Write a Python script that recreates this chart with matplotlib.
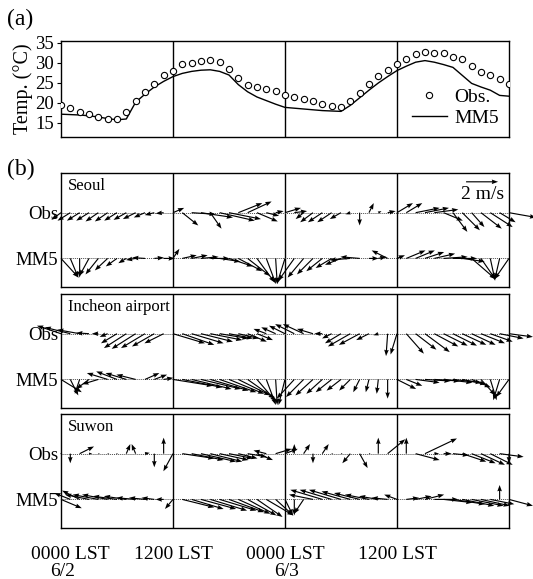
import numpy as np
import matplotlib
matplotlib.use('Agg')
import matplotlib.pyplot as plt
import matplotlib.transforms as mtransforms

plt.rcParams['font.family'] = ['Liberation Serif', 'DejaVu Serif']
plt.rcParams['font.size'] = 13.5

# Hours since 0000 LST 6/2
hours = np.arange(49)

# (a) Temperature (deg C)
temp_obs = [19.3, 18.6, 17.6, 17.1, 16.5, 16.0, 16.0, 17.7, 20.4, 22.6,
            24.6, 26.9, 28.0, 29.6, 30.0, 30.5, 30.6, 30.2, 28.4, 26.2,
            24.4, 23.9, 23.3, 22.8, 22.0, 21.4, 21.0, 20.4, 19.7, 19.2,
            19.0, 20.4, 22.5, 24.6, 26.6, 28.2, 29.7, 31.0, 32.2, 32.7,
            32.3, 32.3, 31.5, 30.9, 29.1, 27.6, 26.8, 25.8, 24.7]
temp_mm5 = [17.1, 17.0, 16.9, 16.7, 16.4, 16.0, 15.7, 15.9, 20.1, 22.1,
            23.9, 25.3, 26.5, 27.3, 27.8, 28.1, 28.2, 27.8, 26.9, 24.5,
            22.7, 21.4, 20.5, 19.6, 18.8, 18.6, 18.4, 18.2, 18.0, 17.9,
            17.8, 19.3, 21.2, 23.1, 24.9, 26.5, 28.0, 29.1, 30.1, 30.5,
            30.1, 29.5, 28.8, 26.8, 24.8, 23.9, 23.1, 21.8, 21.6]

stations = ['Seoul', 'Incheon airport', 'Suwon']

# (b) hourly wind vectors (m/s): u eastward, v northward
seoul_obs_u = [-0.6, -0.8, -0.8, -0.8, -0.8, -0.8, -0.8, -0.8, -0.8, -0.7,
               -0.6, -0.5, 0.7, 1.0, 1.5, 2.0, 0.7, 2.2, 2.0, 1.5,
               1.5, 1.3, 0.8, 0.5, 1.0, 0.8, -0.5, -0.8, -0.9, -0.9,
               -0.7, -0.3, 0.0, 0.3, 0.2, 0.5, 1.0, 1.0, 1.5, 1.5,
               1.5, 1.2, 0.9, 1.1, 0.8, 1.3, 1.4, 1.0, 1.7]
seoul_obs_v = [-0.45, -0.5, -0.5, -0.5, -0.55, -0.55, -0.5, -0.45, -0.4, -0.3,
               -0.15, -0.05, 0.3, -0.8, -0.1, -0.3, -1.0, -0.5, -0.4, 0.6,
               0.7, -0.55, -0.2, 0.1, 0.3, 0.1, -0.4, -0.6, -0.6, -0.6,
               -0.4, -0.1, -0.8, 0.6, 0.1, 0.1, 0.6, 0.6, 0.3, 0.3,
               0.2, -0.5, -1.2, -1.1, -0.9, -1.0, -0.9, -0.6, -0.3]
seoul_mm5_u = [1.1, 0.5, 0.0, -0.6, -0.8, -0.8, -0.7, -0.5, -0.6, -0.8,
               0.6, 0.7, 0.4, 0.9, 1.0, 1.1, 1.2, 1.3, 1.5, 1.5,
               1.4, 1.1, 0.6, 0.1, -0.5, -1.0, -1.0, -1.0, -1.0, -1.0,
               -1.0, -1.3, -1.2, 0.6, 0.5, -1.0, 0.5, 1.2, 1.2, 1.2,
               1.3, 1.5, 1.5, 1.4, 1.5, 0.9, 0.3, -0.3, -0.9]
seoul_mm5_v = [-1.2, -1.2, -1.2, -1.1, -1.0, -0.75, -0.5, -0.3, -0.1, 0.05,
               0.05, 0.0, 0.6, 0.2, 0.2, 0.1, 0.0, -0.2, -0.5, -0.8,
               -1.1, -1.5, -1.6, -1.6, -1.6, -1.4, -1.2, -1.0, -0.8, -0.6,
               -0.4, -0.1, 0.1, 0.0, 0.1, 0.5, 0.2, 0.5, 0.5, 0.4,
               0.3, 0.1, 0.0, -0.2, -1.3, -1.3, -1.4, -1.3, -1.3]

inch_obs_u = [-1.5, -1.6, -1.4, -0.8, -0.4, -0.5, -1.0, -1.4, -1.5, -1.5,
              -1.4, -1.2, 2.0, 2.0, 2.0, 2.0, 2.0, 1.8, 1.5, 1.3,
              1.2, 1.0, -0.8, -0.9, -1.0, -1.2, -1.3, -1.0, -0.5, -0.6,
              -1.0, -1.4, -1.3, -0.8, -0.3, -0.1, -0.4, 1.1, 1.3, 1.55,
              1.5, 1.5, 1.5, 1.5, 1.5, 1.5, 1.4, 1.5, 1.5]
inch_obs_v = [0.5, 0.4, 0.25, 0.05, 0.0, -0.2, -0.6, -0.9, -0.95, -0.9,
              -0.8, -0.6, -0.6, -0.7, -0.6, -0.5, -0.4, -0.3, -0.3, -0.3,
              -0.5, -0.4, 0.3, 0.4, 0.5, 0.6, 0.6, 0.3, 0.0, -0.3,
              -0.6, -0.8, -0.7, -0.4, -0.1, -1.4, -1.3, -1.25, -1.0, -1.15,
              -0.8, -0.75, -0.75, -0.7, -0.7, -0.6, -0.5, -0.3, -0.2]
inch_mm5_u = [1.3, 0.5, -0.3, -0.8, -1.0, -1.3, -1.3, -1.3, -1.2, 0.9,
              0.8, 0.6, 2.5, 2.5, 2.5, 2.5, 2.4, 2.3, 2.2, 2.0,
              1.7, 1.2, 0.6, 0.1, -0.4, -1.1, -1.1, -1.1, -1.0, -1.0,
              -0.9, -0.7, -0.4, -0.2, -0.1, 0.0, 1.2, 1.0, 1.5, 1.6,
              1.6, 1.8, 1.8, 1.5, 1.2, 0.9, 0.4, -0.4, -0.8]
inch_mm5_v = [-0.8, -1.0, -0.9, -0.6, -0.3, 0.4, 0.5, 0.4, 0.3, 0.4,
              0.3, 0.1, -0.4, -0.5, -0.6, -0.6, -0.7, -0.8, -0.9, -1.0,
              -1.2, -1.4, -1.6, -1.6, -1.6, -1.2, -1.1, -1.0, -0.9, -0.8,
              -0.7, -0.7, -0.8, -0.8, -0.9, -1.2, -0.6, -0.4, -0.2, -0.1,
              -0.1, -0.2, -0.2, -0.3, -0.5, -1.0, -1.3, -1.3, -1.1]

suwon_obs_u = [0.05, 0.0, 0.9, 0.2, 0.1, 0.1, 0.05, 0.25, -0.25, 0.3,
               0.0, 0.0, -0.6, 2.0, 2.0, 2.2, 2.0, 1.8, 1.5, 1.2,
               1.2, 1.0, -0.8, 1.0, 0.8, 0.0, 0.4, 0.0, 0.4, 0.1,
               0.1, -0.5, 0.5, 0.1, 0.0, 1.1, 0.1, 0.0, 1.5, 2.0,
               0.3, 0.5, 1.0, 1.5, 1.5, 1.5, 1.4, 1.5, 0.0]
suwon_obs_v = [0.0, -0.6, 0.45, 0.0, 0.0, 0.0, 0.0, 0.6, 0.6, 0.05,
               -0.85, 1.0, -1.1, -0.3, -0.4, -0.5, -0.5, -0.4, -0.3, -0.3,
               -0.2, -0.4, 0.2, 0.3, 0.3, 0.6, 0.6, -0.6, 0.6, 0.0,
               0.0, -0.6, -0.9, 0.0, 1.0, 0.9, 0.0, 1.0, -0.4, 0.95,
               0.0, 0.0, -0.1, -0.5, -0.6, -0.7, -0.7, -0.2, -0.6]
suwon_mm5_u = [1.3, -1.0, -1.1, -1.5, -1.6, -1.6, -1.5, -1.4, -1.2, -1.0,
               -0.8, -0.5, -0.5, 2.0, 2.0, 2.2, 2.3, 2.3, 2.2, 2.0,
               1.8, 1.6, 1.7, 1.1, 0.5, 0.0, -0.6, -1.5, -2.0, -2.0,
               -2.0, -1.8, -1.6, -1.5, -1.2, -1.0, -0.8, 0.8, 1.0, 1.2,
               1.5, 1.8, 2.0, 2.0, 2.0, 1.8, 1.5, 0.0, 1.5]
suwon_mm5_v = [-0.55, 0.4, 0.55, 0.3, 0.3, 0.3, 0.2, 0.2, 0.1, 0.1,
               0.1, 0.0, -0.6, -0.5, -0.6, -0.6, -0.7, -0.7, -0.8, -0.9,
               -1.0, -1.1, -1.0, -1.0, -1.0, -1.0, -0.9, 0.3, 0.6, 0.6,
               0.6, 0.5, 0.4, 0.3, 0.2, 0.1, 0.3, 0.1, 0.2, 0.3,
               0.0, -0.2, -0.3, -0.4, -0.4, -0.4, -0.3, 0.9, -0.4]

winds = [
    (seoul_obs_u, seoul_obs_v, seoul_mm5_u, seoul_mm5_v),
    (inch_obs_u, inch_obs_v, inch_mm5_u, inch_mm5_v),
    (suwon_obs_u, suwon_obs_v, suwon_mm5_u, suwon_mm5_v),
]

day_ticks = [0, 12, 24, 36]
day_labels = ['0000 LST', '1200 LST', '0000 LST', '1200 LST']
date_ticks = [0, 24]
date_labels = ['6/2', '6/3']

fig = plt.figure(figsize=(5.33, 5.79), dpi=100)

# ---- (a) temperature
ax = fig.add_axes([0.1144, 0.7634, 0.8405, 0.1658])
ax.plot(hours, temp_obs, 'o', mfc='white', mec='black', ms=4.5, mew=0.8,
        label='Obs.', zorder=3)
ax.plot(hours, temp_mm5, '-', color='black', lw=1.0, label='MM5')
ax.set_xlim(0, 48)
ax.set_ylim(11.4, 35.4)
ax.set_yticks([15, 20, 25, 30, 35])
ax.set_xticks(day_ticks[1:])
ax.set_xticklabels([])
ax.tick_params(axis='x', length=0)
ax.tick_params(axis='y', length=3, pad=2)
ax.grid(axis='x', color='black', lw=1.0)
for sp in ax.spines.values():
    sp.set_linewidth(1.0)
ax.set_ylabel('Temp. (°C)', fontsize=14.5, labelpad=2)
ax.legend(loc='lower right', frameon=False, fontsize=14, handlelength=1.8,
          handletextpad=0.4, borderaxespad=0.1, labelspacing=0.2)
fig.text(0.013, 0.985, '(a)', fontsize=17, va='top')

# ---- (b) wind vectors
fig.text(0.013, 0.725, '(b)', fontsize=17, va='top')
bottoms = [0.5043, 0.2953, 0.0881]
y_obs, y_mm5 = 0.65, 0.25
for i, name in enumerate(stations):
    ou, ov, mu, mv = winds[i]
    ax = fig.add_axes([0.1144, bottoms[i], 0.8405, 0.1975])
    ax.set_xlim(0, 48)
    ax.set_ylim(0, 1)
    for sp in ax.spines.values():
        sp.set_linewidth(1.0)
    for yb in (y_obs, y_mm5):
        ax.axhline(yb, color='0.3', lw=0.7, ls=(0, (1, 1)))
    q = None
    for yb, u, v in ((y_obs, ou, ov), (y_mm5, mu, mv)):
        q = ax.quiver(hours, np.full(len(hours), yb), u, v, angles='uv',
                      scale_units='dots', scale=1 / 16.0, units='dots',
                      width=1.15, headwidth=4, headlength=5.5,
                      headaxislength=5, color='black', zorder=3)
        q.set_clip_on(False)
    if i == 0:
        ax.quiverkey(q, 0.94, 0.92, 2, '2 m/s', labelpos='S',
                     coordinates='axes', labelsep=0.04,
                     fontproperties={'size': 14})
    ax.text(0.015, 0.955, name, transform=ax.transAxes, ha='left',
            va='top', fontsize=12)
    ax.set_yticks([y_mm5, y_obs])
    ax.set_yticklabels(['MM5', 'Obs'])
    ax.tick_params(axis='y', length=0, pad=2)
    ax.set_xticks(day_ticks[1:])
    ax.grid(axis='x', color='black', lw=1.0)
    if i == 2:
        ax.set_xticks(day_ticks)
        ax.set_xticklabels(day_labels, fontsize=14)
        ax.tick_params(axis='x', length=0, pad=13)
        ax.grid(False)
        for t in day_ticks[1:]:
            ax.axvline(t, color='black', lw=1.0)
        # first label sits a little to the right of its tick
        lab0 = ax.get_xticklabels()[0]
        lab0.set_transform(lab0.get_transform() + mtransforms.ScaledTranslation(
            9 / 100, 0, fig.dpi_scale_trans))
        trans = mtransforms.blended_transform_factory(ax.transData, fig.transFigure)
        for t, lab in zip(date_ticks, date_labels):
            ax.text(t + 0.2, 0.006, lab, transform=trans, ha='center',
                    va='baseline', fontsize=14)
    else:
        ax.tick_params(axis='x', length=0, labelbottom=False)

fig.savefig('out.png', dpi=100)
